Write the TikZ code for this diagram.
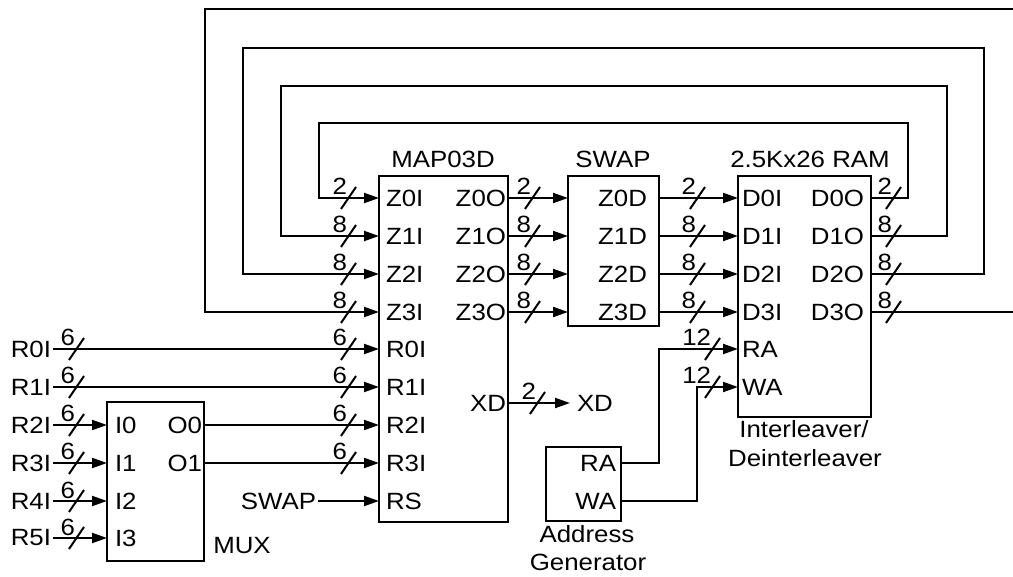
\documentclass[tikz,border=0pt]{standalone}
\usepackage{fontspec}
\setmainfont[FakeStretch=1.1]{Liberation Sans}
\usetikzlibrary{arrows.meta}
\newcommand\busmark[3]{%
  \draw (#1-7,#2+11) -- (#1+8,#2-11);
  \node[lbl,anchor=base east] (bm#1y#2) at (#1-1,#2-3) {#3};}
\begin{document}
\begin{tikzpicture}[x=1pt,y=-1pt,line width=2pt,
  box/.style={draw, anchor=north west, inner sep=0pt, outer sep=0pt},
  lbl/.style={font=\fontsize{23.5}{26}\selectfont, inner sep=0pt, outer sep=0pt},
  arr/.style={-{Triangle[length=15pt,width=10pt]}}]
\useasboundingbox (0,0) rectangle (1013,577);
\clip (0,0) rectangle (1013,577);
% boxes
\node[box, minimum width=129pt, minimum height=346pt] (map) at (379,176) {};
\node[box, minimum width=91pt, minimum height=150pt] (swap) at (568,176) {};
\node[box, minimum width=133pt, minimum height=241pt] (ram) at (738,176) {};
\node[box, minimum width=97pt, minimum height=159pt] (mux) at (107,402) {};
\node[box, minimum width=75pt, minimum height=74pt] (addr) at (546,447) {};
% titles
\node[lbl, anchor=base] (tmap) at (443,168) {MAP03D};
\node[lbl, anchor=base] (tswap) at (613,168) {SWAP};
\node[lbl, anchor=base] (tram) at (810,168) {2.5Kx26 RAM};
\node[lbl, anchor=base] (tint) at (804,438) {Interleaver/};
\node[lbl, anchor=base] (tdei) at (805,467) {Deinterleaver};
\node[lbl, anchor=base] (tmux) at (242,553) {MUX};
\node[lbl, anchor=base] (tadd) at (587,542) {Address};
\node[lbl, anchor=base] (tgen) at (588,570) {Generator};
% MAP ports
\foreach \t/\y in {Z0I/198,Z1I/236,Z2I/274,Z3I/312,R0I/349,R1I/387,R2I/425,R3I/463,RS/501}
  \node[lbl, anchor=west] (map\t) at (386,\y) {\t};
\foreach \t/\y in {Z0O/198,Z1O/236,Z2O/274,Z3O/312,XD/403}
  \node[lbl, anchor=east] (map\t) at (506,\y) {\t};
% SWAP ports
\foreach \t/\y in {Z0D/198,Z1D/236,Z2D/274,Z3D/312}
  \node[lbl, anchor=east] (sw\t) at (647,\y) {\t};
% RAM ports
\foreach \t/\y in {D0I/198,D1I/236,D2I/274,D3I/312,RA/349,WA/387}
  \node[lbl, anchor=west] (ram\t) at (742,\y) {\t};
\foreach \t/\y in {D0O/198,D1O/236,D2O/274,D3O/312}
  \node[lbl, anchor=east] (ram\t) at (864,\y) {\t};
% MUX ports
\foreach \t/\y in {I0/425,I1/463,I2/501,I3/538}
  \node[lbl, anchor=west] (mux\t) at (115,\y) {\t};
\foreach \t/\y in {O0/425,O1/463}
  \node[lbl, anchor=east] (mux\t) at (202,\y) {\t};
% Address generator ports
\node[lbl, anchor=east] (adRA) at (616,463) {RA};
\node[lbl, anchor=east] (adWA) at (616,501) {WA};
% external labels
\foreach \t/\y in {R0I/349,R1I/387,R2I/425,R3I/463,R4I/501,R5I/538}
  \node[lbl, anchor=east] (in\t) at (51,\y) {\t};
\node[lbl, anchor=east] (inSWAP) at (316,501) {SWAP};
\node[lbl, anchor=west] (outXD) at (577,403) {XD};
% port coordinates on box edges
\foreach \n/\y in {0/198,1/236,2/274,3/312}{
  \coordinate (mzi\n) at (379,\y);
  \coordinate (mzo\n) at (508,\y);
  \coordinate (swi\n) at (568,\y);
  \coordinate (swo\n) at (659,\y);
  \coordinate (rdi\n) at (738,\y);
  \coordinate (rdo\n) at (871,\y);
}
\foreach \n/\y in {0/349,1/387,2/425,3/463,S/501}
  \coordinate (mr\n) at (379,\y);
\foreach \n/\y in {0/425,1/463,2/501,3/538}
  \coordinate (mxi\n) at (107,\y);
\coordinate (mxo0) at (204,425);
\coordinate (mxo1) at (204,463);
\coordinate (mxd) at (508,403);
\coordinate (xdend) at (570,403);
\coordinate (rra) at (738,349);
\coordinate (rwa) at (738,387);
\coordinate (ara) at (621,463);
\coordinate (awa) at (621,501);
% feedback loops
\draw[arr] (rdo0) -- (908,198) -- (908,123) -- (319,123) -- (319,198) -- (mzi0);
\draw[arr] (rdo1) -- (947,236) -- (947,86) -- (281,86) -- (281,236) -- (mzi1);
\draw[arr] (rdo2) -- (984,274) -- (984,48) -- (243,48) -- (243,274) -- (mzi2);
\draw[arr] (rdo3) -- (1040,312) -- (1040,9) -- (205,9) -- (205,312) -- (mzi3);
% MAP -> SWAP -> RAM
\foreach \n in {0,1,2,3}{
  \draw[arr] (mzo\n) -- (swi\n);
  \draw[arr] (swo\n) -- (rdi\n);
}
% inputs
\draw[arr] ([xshift=2pt]inR0I.east) -- (mr0);
\draw[arr] ([xshift=2pt]inR1I.east) -- (mr1);
\draw[arr] ([xshift=2pt]inR2I.east) -- (mxi0);
\draw[arr] ([xshift=2pt]inR3I.east) -- (mxi1);
\draw[arr] ([xshift=2pt]inR4I.east) -- (mxi2);
\draw[arr] ([xshift=2pt]inR5I.east) -- (mxi3);
\draw[arr] (mxo0) -- (mr2);
\draw[arr] (mxo1) -- (mr3);
\draw[arr] ([xshift=2pt]inSWAP.east) -- (mrS);
\draw[arr] (mxd) -- (xdend);
\draw[arr] (ara) -| (659,349) -- (rra);
\draw[arr] (awa) -| (697,387) -- (rwa);
% bus marks
\busmark{348}{198}{2}\busmark{348}{236}{8}\busmark{348}{274}{8}\busmark{348}{312}{8}
\busmark{532}{198}{2}\busmark{532}{236}{8}\busmark{532}{274}{8}\busmark{532}{312}{8}
\busmark{697}{198}{2}\busmark{697}{236}{8}\busmark{697}{274}{8}\busmark{697}{312}{8}
\busmark{893}{198}{2}\busmark{893}{236}{8}\busmark{893}{274}{8}\busmark{893}{312}{8}
\busmark{348}{349}{6}\busmark{348}{387}{6}\busmark{348}{425}{6}\busmark{348}{463}{6}
\busmark{76}{349}{6}\busmark{76}{387}{6}\busmark{76}{425}{6}\busmark{76}{463}{6}\busmark{76}{501}{6}\busmark{76}{538}{6}
\busmark{537}{403}{2}
\busmark{712}{349}{12}\busmark{712}{387}{12}
\end{tikzpicture}
\end{document}
